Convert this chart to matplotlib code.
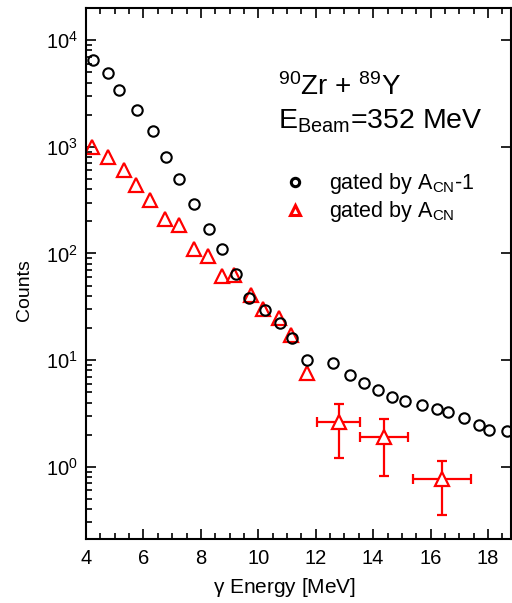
import numpy as np
import matplotlib
matplotlib.use("Agg")
import matplotlib.pyplot as plt
from matplotlib.ticker import MultipleLocator, LogLocator, NullFormatter
from matplotlib.lines import Line2D

plt.rcParams['font.family'] = ['Liberation Sans', 'DejaVu Sans']
plt.rcParams['mathtext.fontset'] = 'custom'
plt.rcParams['mathtext.rm'] = 'Liberation Sans'
plt.rcParams['mathtext.it'] = 'Liberation Sans:italic'
plt.rcParams['mathtext.default'] = 'regular'

# spectrum gated by A_CN-1
e_a1 = [4.23, 4.77, 5.16, 5.76, 6.33, 6.78, 7.23, 7.75, 8.27, 8.73, 9.21, 9.66,
        10.23, 10.76, 11.18, 11.68, 12.59, 13.19, 13.69, 14.18, 14.65, 15.11,
        15.71, 16.23, 16.60, 17.18, 17.68, 18.05, 18.66]
cnt_a1 = [6500, 4910, 3380, 2190, 1405, 802, 502, 293, 171, 109, 64, 38.6,
          29.4, 22.5, 16.1, 10.0, 9.36, 7.27, 6.08, 5.23, 4.53, 4.15,
          3.78, 3.49, 3.27, 2.84, 2.46, 2.23, 2.14]

# spectrum gated by A_CN
e_a0 = [4.22, 4.75, 5.32, 5.74, 6.23, 6.74, 7.23, 7.76, 8.25, 8.75, 9.17, 9.75,
        10.18, 10.71, 11.15, 11.70]
cnt_a0 = [995, 796, 608, 441, 319, 209, 184, 111, 94, 61, 63, 41.1,
          30.0, 25.0, 17.0, 7.57]

# wide bins at high energy with error bars
e_bin = [12.80, 14.38, 16.39]
cnt_bin = [2.60, 1.88, 0.77]
e_lo = [12.03, 13.54, 15.39]
e_hi = [13.55, 15.22, 17.39]
cnt_lo = [1.21, 0.81, 0.355]
cnt_hi = [3.86, 2.83, 1.14]

e_bin = np.array(e_bin)
cnt_bin = np.array(cnt_bin)
xerr = [e_bin - np.array(e_lo), np.array(e_hi) - e_bin]
yerr = [cnt_bin - np.array(cnt_lo), np.array(cnt_hi) - cnt_bin]

fig = plt.figure(figsize=(5.12, 6.03), dpi=100)
ax = fig.add_axes([86/512, 1 - 539/603, 425/512, 531/603])

red = '#ff0000'
ax.plot(e_a0, cnt_a0, ls='none', marker='^', ms=10, mfc='none', mec=red, mew=1.6)
ax.errorbar(e_bin, cnt_bin, xerr=xerr, yerr=yerr, fmt='^', ms=10, mfc='white',
            mec=red, mew=1.6, ecolor=red, elinewidth=1.6, capsize=3.5, capthick=1.6)
ax.plot(e_a1, cnt_a1, ls='none', marker='o', ms=7.5, mfc='none', mec='black', mew=1.5)

ax.set_yscale('log')
ax.set_xlim(4, 18.8)
ax.set_ylim(0.21, 2.0e4)

ax.xaxis.set_major_locator(MultipleLocator(2))
ax.xaxis.set_minor_locator(MultipleLocator(0.5))
ax.yaxis.set_major_locator(LogLocator(base=10, numticks=10))
ax.yaxis.set_minor_locator(LogLocator(base=10, subs=np.arange(2, 10), numticks=10))
ax.yaxis.set_minor_formatter(NullFormatter())

ax.tick_params(which='both', direction='in', top=True, right=True, labelsize=14.5, width=1.2)
ax.tick_params(which='major', length=7)
ax.tick_params(axis='x', which='major', pad=7)
ax.tick_params(axis='y', which='major', pad=6)
ax.tick_params(which='minor', length=4)
ax.tick_params(axis='y', which='minor', right=False)
for s in ax.spines.values():
    s.set_linewidth(1.5)

ax.set_xlabel(r'$\gamma$ Energy [MeV]', fontsize=15)
ax.set_ylabel('Counts', fontsize=14)
ax.xaxis.set_label_coords(0.468, -0.07)
ax.yaxis.set_label_coords(-0.125, 0.469)

ax.text(0.452, 0.836, r'$^{90}$Zr + $^{89}$Y', transform=ax.transAxes, fontsize=20)
ax.text(0.452, 0.774, r'E$_{\mathrm{Beam}}$=352 MeV', transform=ax.transAxes, fontsize=20.5)

handles = [Line2D([], [], ls='none', marker='o', ms=6, mfc='none', mec='black', mew=2.2),
           Line2D([], [], ls='none', marker='^', ms=7, mfc='none', mec=red, mew=2.2)]
labels = [r'gated by A$_{\mathrm{CN}}$-1', r'gated by A$_{\mathrm{CN}}$']
ax.legend(handles, labels, loc='upper left', bbox_to_anchor=(0.44, 0.709),
          frameon=False, fontsize=15.5, handletextpad=1.0, labelspacing=0.15,
          handlelength=1.2, borderaxespad=0)

fig.savefig('out.png', dpi=100)
